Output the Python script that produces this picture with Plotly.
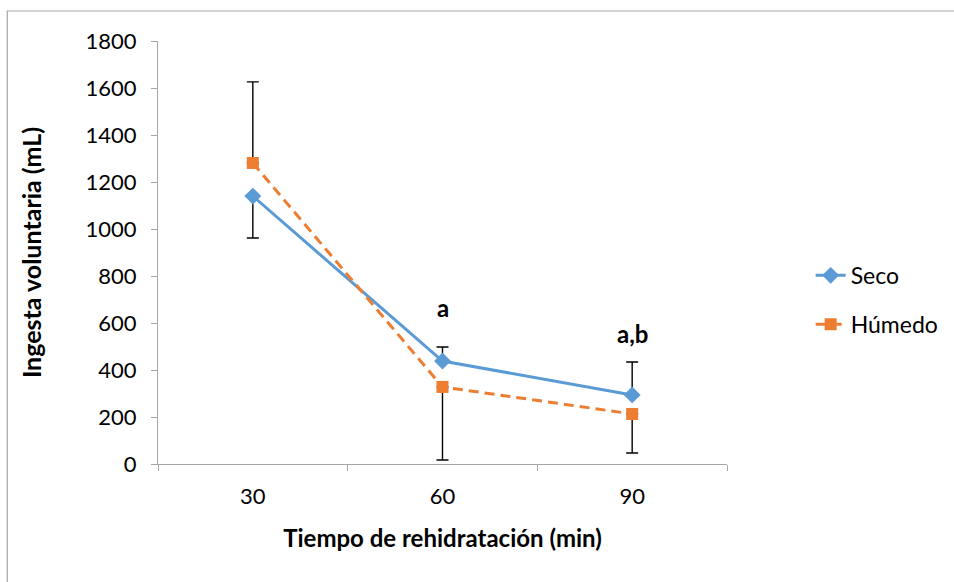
import plotly.graph_objects as go

categories = ["30", "60", "90"]
seco = [1140, 438, 294]
humedo = [1281, 328, 213]
seco_err_plus = [0, 60, 140]
seco_err_minus = [178, 0, 0]
humedo_err_plus = [345, 0, 0]
humedo_err_minus = [0, 311, 166]
y_ticks = [0, 200, 400, 600, 800, 1000, 1200, 1400, 1600, 1800]
annot_labels = ["a", "a,b"]
annot_x = ["60", "90"]
annot_y = [668, 557]

FONT = "Lato, Carlito, Calibri, sans-serif"
BLUE = "#5B9BD5"
ORANGE = "#ED7D31"

fig = go.Figure()
fig.add_trace(go.Scatter(
    x=categories, y=seco, name="Seco", mode="lines+markers", legendgroup="s",
    line=dict(color=BLUE, width=3),
    marker=dict(symbol="diamond", size=13, color=BLUE),
    error_y=dict(type="data", symmetric=False, array=seco_err_plus,
                 arrayminus=seco_err_minus, color="black", thickness=1.4, width=6),
))
fig.add_trace(go.Scatter(
    x=categories, y=humedo, name="Húmedo", mode="lines+markers", legendgroup="h",
    line=dict(color=ORANGE, width=3, dash="10px,6px"),
    marker=dict(symbol="square", size=12, color=ORANGE),
    error_y=dict(type="data", symmetric=False, array=humedo_err_plus,
                 arrayminus=humedo_err_minus, color="black", thickness=1.4, width=6),
))

for lab, ax, ay in zip(annot_labels, annot_x, annot_y):
    fig.add_annotation(x=categories.index(ax), y=ay, xref="x", yref="y",
                       text="<b>%s</b>" % lab, showarrow=False,
                       font=dict(family=FONT, size=24, color="black"))

# outer chart border
fig.add_shape(type="rect", xref="paper", yref="paper",
              x0=-151/570, x1=1.6, y0=-0.6, y1=1 + 30/423,
              line=dict(color="#A6A6A6", width=1.2), fillcolor="rgba(0,0,0,0)")

fig.update_layout(
    width=954, height=582,
    margin=dict(l=158, r=226, t=41, b=118),
    paper_bgcolor="white", plot_bgcolor="white",
    font=dict(family=FONT, size=22, color="black"),
    showlegend=True,
    legend=dict(x=1.145, y=0.388, yanchor="middle", xanchor="left",
                font=dict(family=FONT, size=23), tracegroupgap=16,
                bgcolor="rgba(0,0,0,0)"),
    xaxis=dict(
        type="category", range=[-0.5, 2.5],
        showline=True, linecolor="#A6A6A6", linewidth=1.2,
        ticks="outside", tickson="boundaries", ticklen=6, tickcolor="#A6A6A6",
        ticklabelstandoff=12,
        showgrid=False, zeroline=False,
        title=dict(text="<b>Tiempo de rehidratación (min)</b>", font=dict(size=24), standoff=22),
    ),
    yaxis=dict(
        range=[0, 1800], tickvals=y_ticks,
        showline=True, linecolor="#A6A6A6", linewidth=1.2,
        ticks="outside", ticklen=6, tickcolor="#A6A6A6",
        ticklabelstandoff=10,
        showgrid=False, zeroline=False,
        title=dict(text="<b>Ingesta voluntaria (mL)</b>", font=dict(size=25), standoff=36),
    ),
)

fig.write_html("out.html")
